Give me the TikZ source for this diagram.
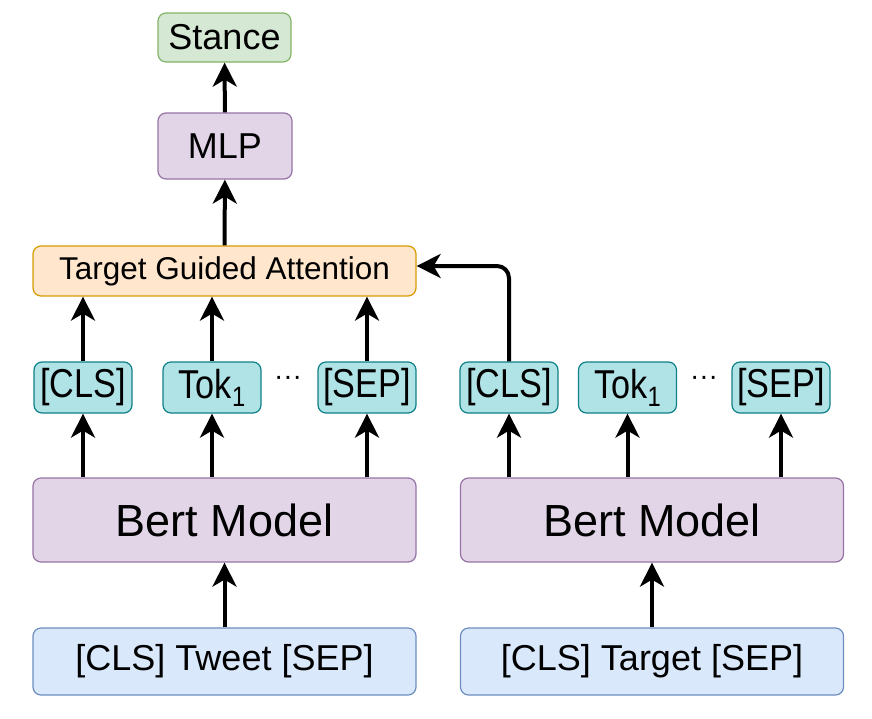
\documentclass[tikz,border=0pt]{standalone}
\usepackage{fontspec}
\setmainfont{Liberation Sans}
\usetikzlibrary{arrows.meta}
\definecolor{stfill}{HTML}{D5E8D4}\definecolor{stdraw}{HTML}{82B366}
\definecolor{pufill}{HTML}{E1D5E7}\definecolor{pudraw}{HTML}{9673A6}
\definecolor{orfill}{HTML}{FFE6CC}\definecolor{ordraw}{HTML}{D79B00}
\definecolor{tkfill}{HTML}{B0E3E6}\definecolor{tkdraw}{HTML}{0E8088}
\definecolor{infill}{HTML}{DAE8FC}\definecolor{indraw}{HTML}{6C8EBF}
\tikzset{
  box/.style={rectangle, rounded corners=8pt, line width=1.2pt, inner sep=0pt, align=center},
  greenbox/.style={box, fill=stfill, draw=stdraw},
  purplebox/.style={box, fill=pufill, draw=pudraw},
  orangebox/.style={box, fill=orfill, draw=ordraw},
  tokbox/.style={box, fill=tkfill, draw=tkdraw, minimum width=98pt, minimum height=51pt, font=\fontsize{36}{40}\selectfont},
  inbox/.style={box, fill=infill, draw=indraw, minimum width=383pt, minimum height=67pt, font=\fontsize{36}{40}\selectfont},
  bertbox/.style={purplebox, minimum width=383pt, minimum height=84pt, font=\fontsize{45}{50}\selectfont},
  arr/.style={line width=4pt, -{Stealth[length=24pt,width=24pt,inset=7pt]}},
  dotstyle/.style={inner sep=0pt, font=\fontsize{28}{30}\selectfont},
}
\newcommand{\tall}[1]{\scalebox{0.95}[1.12]{#1}}
\newcommand{\tokone}{\tall{Tok\raisebox{-7pt}{\fontsize{25}{25}\selectfont 1}}}
\begin{document}
\begin{tikzpicture}[x=1pt,y=-1pt]
\useasboundingbox (0,0) rectangle (872,718);
% top
\node[greenbox, minimum width=133pt, minimum height=49pt, font=\fontsize{36}{40}\selectfont] (stance) at (224.5,37.5) {Stance};
\node[purplebox, minimum width=134pt, minimum height=66pt, font=\fontsize{36}{40}\selectfont] (mlp) at (225,146) {MLP};
\node[orangebox, minimum width=383pt, minimum height=50pt, font=\fontsize{31.5}{34}\selectfont] (tga) at (224.5,271) {Target Guided Attention};
% tokens left
\node[tokbox] (lcls) at (83,387.5) {\tall{[CLS]}};
\node[tokbox] (ltok) at (212,387.5) {\tokone};
\node[dotstyle] (ldots) at (288,381) {···};
\node[tokbox] (lsep) at (367,387.5) {\tall{[SEP]}};
% tokens right
\node[tokbox] (rcls) at (509,387.5) {\tall{[CLS]}};
\node[tokbox] (rtok) at (627.5,387.5) {\tokone};
\node[dotstyle] (rdots) at (704,381) {···};
\node[tokbox] (rsep) at (781,387.5) {\tall{[SEP]}};
% bert
\node[bertbox] (lbert) at (224.5,520) {Bert Model};
\node[bertbox] (rbert) at (652,520) {Bert Model};
% inputs
\node[inbox] (lin) at (224.5,661.5) {[CLS] Tweet [SEP]};
\node[inbox] (rin) at (652,661.5) {[CLS] Target [SEP]};
% arrows
\draw[arr] (lin) -- (lbert);
\draw[arr] (rin) -- (rbert);
\foreach \t in {lcls,ltok,lsep} {
  \draw[arr] (\t.south |- lbert.north) -- (\t.south);
  \draw[arr] (\t.north) -- (\t.north |- tga.south);
}
\foreach \t in {rcls,rtok,rsep} {
  \draw[arr] (\t.south |- rbert.north) -- (\t.south);
}
\draw[arr, rounded corners=12pt] (rcls.north) |- ([yshift=5pt]tga.east);
\draw[arr] (tga) -- (mlp);
\draw[arr] (mlp) -- (stance);
\end{tikzpicture}
\end{document}
